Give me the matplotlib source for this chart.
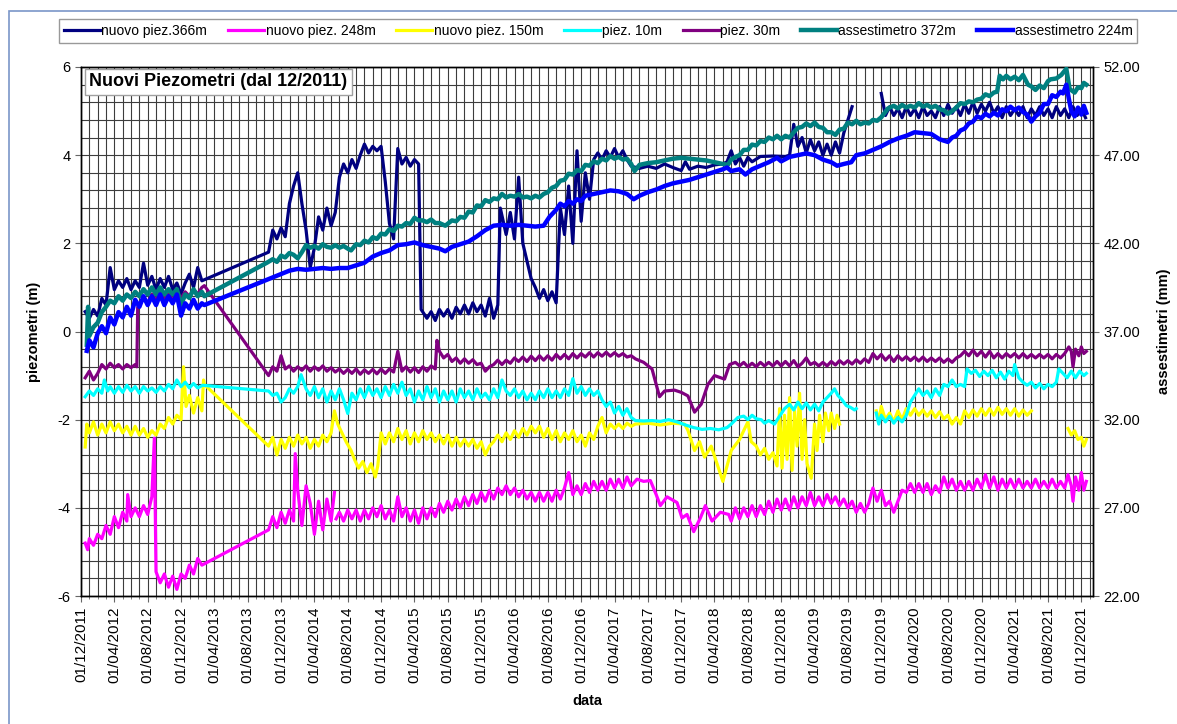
import numpy as np
import pandas as pd
import matplotlib
matplotlib.use("Agg")
import matplotlib.pyplot as plt
import matplotlib.dates as mdates
from matplotlib.ticker import MultipleLocator, FormatStrFormatter
from matplotlib.patches import Rectangle

plt.rcParams['font.family'] = ['Liberation Sans', 'DejaVu Sans']
plt.rcParams['axes.unicode_minus'] = False

# months counted from 01/12/2011; None = hole in the record
piez366 = [
    (0.5, 0.45), (1.0, 0.30), (1.5, 0.50), (2.0, 0.35), (2.5, 0.75), (3.0, 0.60), (3.5, 1.45), (4.0, 0.95),
    (4.5, 1.15), (5.0, 1.00), (5.5, 1.20), (6.0, 0.95), (6.5, 1.15), (7.0, 1.00), (7.5, 1.55), (8.0, 1.05),
    (8.5, 1.25), (9.0, 0.95), (9.5, 1.20), (10.0, 1.00), (10.5, 1.25), (11.0, 0.95), (11.5, 1.10), (12.0, 0.85),
    (12.5, 1.10), (13.0, 1.30), (13.5, 1.00), (14.0, 1.45), (14.5, 1.15),
    (22.5, 1.80), (23.0, 2.30), (23.5, 2.10), (24.0, 2.35), (24.5, 2.15), (25.0, 2.90), (25.5, 3.30), (26.0, 3.60),
    (26.5, 2.90), (27.0, 2.30), (27.5, 1.45), (28.0, 1.90), (28.5, 2.60), (29.0, 2.30), (29.5, 2.80), (30.0, 2.40),
    (30.5, 2.70), (31.0, 3.50), (31.5, 3.80), (32.0, 3.60), (32.5, 3.90), (33.0, 3.70), (33.5, 4.00), (34.0, 4.25),
    (34.5, 4.05), (35.0, 4.20), (35.5, 4.10), (36.0, 4.20), (36.5, 3.40), (37.0, 2.45), (37.5, 2.10), (38.0, 4.15),
    (38.5, 3.80), (39.0, 3.95), (39.5, 3.75), (40.0, 3.90), (40.5, 3.80),
    (40.8, 0.50), (41.5, 0.30), (42.0, 0.45), (42.5, 0.25), (43.0, 0.50), (43.5, 0.35), (44.0, 0.50), (44.5, 0.30),
    (45.0, 0.55), (45.5, 0.40), (46.0, 0.60), (46.5, 0.40), (47.0, 0.65), (47.5, 0.45), (48.0, 0.60), (48.5, 0.35),
    (49.0, 0.75), (49.5, 0.30), (50.0, 0.60), (50.3, 2.80), (51.0, 2.20), (51.5, 2.70), (52.0, 2.10), (52.5, 3.50),
    (53.0, 2.00), (53.5, 1.60), (54.0, 1.20), (54.5, 1.00), (55.0, 0.75), (55.5, 0.95), (56.0, 0.70), (56.5, 0.90),
    (57.0, 0.65), (57.5, 2.80), (58.0, 2.20), (58.5, 3.30), (59.0, 2.00), (59.5, 4.10), (60.0, 2.50), (60.5, 3.60),
    (61.0, 3.00), (61.5, 3.90), (62.0, 4.05), (62.5, 3.90), (63.0, 4.10), (63.5, 3.95), (64.0, 4.15), (64.5, 3.95),
    (65.0, 4.10), (65.5, 3.90), (66.0, 3.75), (67.0, 3.70), (68.0, 3.75), (69.0, 3.70), (70.0, 3.80), (71.0, 3.72),
    (72.0, 3.65), (72.5, 3.85), (73.0, 3.68), (74.0, 3.75), (75.0, 3.72), (76.0, 3.78), (77.0, 3.80), (77.5, 3.85),
    (78.0, 4.10), (78.5, 3.80), (79.0, 3.95), (79.5, 3.75), (80.0, 3.95), (80.5, 3.85), (81.5, 3.97), (83.0, 3.98),
    (84.5, 3.97), (85.0, 4.00), (85.5, 4.70), (86.0, 4.20), (86.5, 4.40), (87.0, 4.05), (87.5, 4.35), (88.0, 4.10),
    (88.5, 4.30), (89.0, 4.00), (89.5, 4.25), (90.0, 4.00), (90.5, 4.30), (91.0, 4.05), (91.5, 4.50), (92.0, 4.80),
    (92.5, 5.10), (93.0, None),
    (96.0, 5.40), (96.5, 4.90), (97.0, 5.10), (97.5, 4.90), (98.0, 5.05), (98.5, 4.85), (99.0, 5.10), (99.5, 4.90),
    (100.0, 5.05), (100.5, 4.85), (101.0, 5.10), (101.5, 4.90), (102.0, 5.00), (102.5, 4.85), (103.0, 5.10),
    (103.5, 4.90), (104.0, 5.15), (104.5, 4.95), (105.0, 5.10), (105.5, 4.90), (106.0, 5.15), (106.5, 4.95),
    (107.0, 5.20), (107.5, 4.95), (108.0, 5.15), (108.5, 5.00), (109.0, 5.20), (109.5, 4.95), (110.0, 5.10),
    (110.5, 4.85), (111.0, 5.10), (111.5, 4.90), (112.0, 5.05), (112.5, 4.90), (113.0, 5.10), (113.5, 4.85),
    (114.0, 5.05), (114.5, 4.90), (115.0, 5.10), (115.5, 4.90), (116.0, 5.05), (116.5, 4.85), (117.0, 5.10),
    (117.5, 4.90), (118.0, 5.05), (118.5, 4.85), (119.0, 5.10), (119.5, 4.90), (120.0, 5.05), (120.5, 4.85),
]

piez248 = [
    (0.5, -4.80), (0.8, -4.95), (1.0, -4.70), (1.5, -4.85), (2.0, -4.60), (2.5, -4.70), (3.0, -4.40), (3.5, -4.60),
    (4.0, -4.20), (4.5, -4.45), (5.0, -4.10), (5.5, -4.30), (5.6, -3.70), (6.0, -4.20), (6.5, -4.00), (7.0, -4.20),
    (7.5, -3.95), (8.0, -4.15), (8.5, -3.75), (8.8, -2.42), (9.0, -5.45), (9.5, -5.70), (10.0, -5.50), (10.5, -5.80),
    (11.0, -5.55), (11.5, -5.85), (12.0, -5.50), (12.5, -5.60), (13.0, -5.30), (13.5, -5.50), (14.0, -5.15),
    (14.5, -5.30),
    (22.5, -4.50), (23.0, -4.20), (23.5, -4.45), (24.0, -4.10), (24.5, -4.35), (25.0, -4.05), (25.5, -4.30),
    (25.7, -2.77), (26.0, -3.60), (26.5, -4.40), (27.0, -3.50), (27.5, -3.90), (28.0, -4.60), (28.5, -3.85),
    (29.0, -4.50), (29.5, -3.80), (30.0, -4.30), (30.4, -3.65), (30.5, None),
    (30.6, -4.25), (31.0, -4.10), (31.5, -4.30), (32.0, -4.05), (32.5, -4.25), (33.0, -4.05), (33.5, -4.30),
    (34.0, -4.05), (34.5, -4.25), (35.0, -4.00), (35.5, -4.20), (36.0, -3.95), (36.5, -4.25), (37.0, -4.05),
    (37.5, -4.30), (38.0, -3.75), (38.5, -4.20), (39.0, -4.00), (39.5, -4.30), (40.0, -4.05), (40.5, -4.35),
    (41.0, -4.00), (41.5, -4.25), (42.0, -4.00), (42.5, -4.20), (43.0, -3.90), (43.5, -4.10), (44.0, -3.85),
    (44.5, -4.05), (45.0, -3.80), (45.5, -4.00), (46.0, -3.75), (46.5, -3.95), (47.0, -3.70), (47.5, -3.90),
    (48.0, -3.65), (48.5, -3.85), (49.0, -3.60), (49.5, -3.80), (50.0, -3.55), (50.5, -3.70), (51.0, -3.50),
    (51.5, -3.70), (52.0, -3.55), (52.5, -3.75), (53.0, -3.60), (53.5, -3.80), (54.0, -3.65), (54.5, -3.85),
    (55.0, -3.65), (55.5, -3.85), (56.0, -3.65), (56.5, -3.85), (57.0, -3.60), (57.5, -3.80), (58.0, -3.55),
    (58.5, -3.20), (59.0, -3.70), (59.5, -3.50), (60.0, -3.70), (60.5, -3.45), (61.0, -3.65), (61.5, -3.40),
    (62.0, -3.60), (62.5, -3.40), (63.0, -3.60), (63.5, -3.35), (64.0, -3.55), (64.5, -3.35), (65.0, -3.55),
    (65.5, -3.30), (66.0, -3.50), (66.7, -3.35), (67.5, -3.40), (68.3, -3.38), (69.0, -3.70), (69.5, -3.95),
    (70.3, -3.75), (71.5, -3.88), (72.1, -4.23), (72.7, -4.15), (73.5, -4.54), (74.3, -4.23), (74.9, -3.95),
    (75.7, -4.30), (76.7, -4.10), (77.7, -4.15), (78.0, -4.30), (78.5, -4.00), (79.0, -4.25), (79.5, -4.00),
    (80.0, -4.20), (80.5, -3.95), (81.0, -4.20), (81.5, -3.95), (82.0, -4.15), (82.5, -3.85), (83.0, -4.10),
    (83.5, -3.80), (84.0, -4.05), (84.5, -3.80), (85.0, -4.05), (85.5, -3.75), (86.0, -4.00), (86.5, -3.75),
    (87.0, -3.95), (87.5, -3.65), (88.0, -3.95), (88.5, -3.75), (89.0, -3.95), (89.5, -3.70), (90.0, -3.90),
    (90.5, -3.75), (91.0, -3.95), (91.5, -3.80), (92.0, -4.00), (92.5, -3.85), (93.0, -4.10), (93.5, -3.90),
    (94.0, -4.10), (94.5, -3.90), (95.0, -3.55), (95.5, -3.85), (96.0, -3.60), (96.5, -3.95), (97.0, -3.85),
    (97.5, -4.10), (98.0, -3.85), (98.5, -3.60), (99.0, -3.65), (99.5, -3.45), (100.0, -3.65), (100.5, -3.45),
    (101.0, -3.65), (101.5, -3.45), (102.0, -3.70), (102.5, -3.50), (103.0, -3.65), (103.5, -3.30), (104.0, -3.55),
    (104.5, -3.35), (105.0, -3.60), (105.5, -3.40), (106.0, -3.60), (106.5, -3.40), (107.0, -3.60), (107.5, -3.35),
    (108.0, -3.55), (108.5, -3.25), (109.0, -3.55), (109.5, -3.30), (110.0, -3.60), (110.5, -3.35), (111.0, -3.55),
    (111.5, -3.35), (112.0, -3.55), (112.5, -3.35), (113.0, -3.55), (113.5, -3.40), (114.0, -3.55), (114.5, -3.35),
    (115.0, -3.55), (115.5, -3.40), (116.0, -3.55), (116.5, -3.35), (117.0, -3.55), (117.5, -3.40), (118.0, -3.55),
    (118.4, -3.25), (118.8, -3.50), (119.0, -3.85), (119.3, -3.30), (119.7, -3.60), (120.0, -3.20), (120.3, -3.60),
    (120.6, -3.40),
]

piez150 = [
    (0.5, -2.62), (0.7, -2.10), (1.0, -2.30), (1.5, -2.05), (2.0, -2.35), (2.5, -2.10), (3.0, -2.30), (3.5, -2.05),
    (4.0, -2.25), (4.5, -2.10), (5.0, -2.30), (5.5, -2.15), (6.0, -2.35), (6.5, -2.15), (7.0, -2.35), (7.5, -2.20),
    (8.0, -2.40), (8.5, -2.25), (9.0, -2.35), (9.5, -2.10), (10.0, -2.20), (10.5, -1.95), (11.0, -2.10),
    (11.5, -1.90), (12.0, -2.00), (12.3, -0.80), (12.6, -1.70), (13.0, -1.45), (13.5, -1.85), (14.0, -1.50),
    (14.5, -1.80), (14.7, -1.10), (14.8, -1.20),
    (22.5, -2.60), (23.0, -2.40), (23.5, -2.80), (24.0, -2.45), (24.5, -2.65), (25.0, -2.40), (25.5, -2.60),
    (26.0, -2.35), (26.5, -2.55), (27.0, -2.40), (27.5, -2.65), (28.0, -2.45), (28.5, -2.60), (29.0, -2.35),
    (29.5, -2.50), (30.0, -2.30), (30.4, -1.80), (30.8, -2.10), (31.3, -2.30), (31.8, -2.50), (32.4, -2.70),
    (32.8, -2.90), (33.3, -3.10), (33.8, -2.95), (34.3, -3.20), (34.8, -3.00), (35.3, -3.30), (35.6, -3.05),
    (36.0, -2.30), (36.5, -2.55), (37.0, -2.30), (37.5, -2.50), (38.0, -2.20), (38.5, -2.45), (39.0, -2.25),
    (39.5, -2.55), (40.0, -2.30), (40.5, -2.50), (41.0, -2.25), (41.5, -2.45), (42.0, -2.30), (42.5, -2.50),
    (43.0, -2.35), (43.5, -2.55), (44.0, -2.35), (44.5, -2.60), (45.0, -2.40), (45.5, -2.60), (46.0, -2.45),
    (46.5, -2.60), (47.0, -2.45), (47.5, -2.65), (48.0, -2.50), (48.5, -2.80), (49.0, -2.60), (49.5, -2.50),
    (50.0, -2.35), (50.5, -2.50), (51.0, -2.30), (51.5, -2.45), (52.0, -2.25), (52.5, -2.40), (53.0, -2.20),
    (53.5, -2.35), (54.0, -2.15), (54.5, -2.30), (55.0, -2.15), (55.5, -2.40), (56.0, -2.20), (56.5, -2.45),
    (57.0, -2.25), (57.5, -2.50), (58.0, -2.30), (58.5, -2.45), (59.0, -2.25), (59.5, -2.50), (60.0, -2.35),
    (60.5, -2.60), (61.0, -2.30), (61.5, -2.45), (62.0, -2.15), (62.5, -1.95), (63.0, -2.30), (63.5, -2.10),
    (64.0, -2.20), (64.5, -2.10), (65.0, -2.20), (65.5, -2.08), (66.0, -2.15), (66.5, -2.10), (68.0, -2.08),
    (69.5, -2.12), (71.0, -2.08), (72.4, -2.10), (72.8, -2.24), (73.6, -2.70), (74.2, -2.50), (74.8, -2.85),
    (75.6, -2.60), (77.0, -3.40), (78.0, -2.70), (79.0, -2.45), (79.5, -2.25), (80.0, -2.05), (80.4, -2.50),
    (81.0, -2.60), (81.5, -2.80), (82.0, -2.65), (82.5, -2.90), (83.0, -2.75), (83.5, -3.05), (83.8, -1.75),
    (84.1, -3.10), (84.4, -1.90), (84.7, -2.90), (85.0, -1.50), (85.3, -3.15), (85.6, -1.80), (85.9, -2.60),
    (86.2, -1.40), (86.5, -2.90), (86.8, -2.00), (87.1, -3.00), (87.6, -3.33), (88.0, -2.10), (88.3, -2.70),
    (88.6, -1.90), (89.0, -2.50), (89.3, -1.85), (89.7, -2.25), (90.0, -1.85), (90.4, -2.20), (90.7, -1.90),
    (91.0, -2.10), (91.2, None),
    (95.4, -1.80), (95.7, -2.05), (96.0, -1.70), (96.5, -2.00), (97.0, -1.85), (97.5, -2.05), (98.0, -1.80),
    (98.5, -2.00), (99.0, -1.75), (99.5, -1.90), (100.0, -1.75), (100.5, -1.90), (101.0, -1.78), (101.5, -1.92),
    (102.0, -1.80), (102.5, -1.95), (103.0, -1.82), (103.5, -1.98), (104.0, -1.90), (104.5, -2.10), (105.0, -1.95),
    (105.5, -2.10), (106.0, -1.80), (106.5, -1.95), (107.0, -1.78), (107.5, -1.92), (108.0, -1.75), (108.5, -1.90),
    (109.0, -1.75), (109.5, -1.90), (110.0, -1.72), (110.5, -1.88), (111.0, -1.75), (111.5, -1.90), (112.0, -1.75),
    (112.5, -1.92), (113.0, -1.78), (113.5, -1.90), (114.0, -1.80), (114.2, None),
    (118.4, -2.20), (118.8, -2.35), (119.2, -2.25), (119.6, -2.45), (120.0, -2.40), (120.3, -2.60), (120.6, -2.45),
]

piez10 = [
    (0.5, -1.48), (1.0, -1.35), (1.5, -1.45), (2.0, -1.30), (2.5, -1.40), (2.8, -1.10), (3.2, -1.35), (3.5, -1.25),
    (4.0, -1.40), (4.5, -1.25), (5.0, -1.38), (5.5, -1.22), (6.0, -1.35), (6.5, -1.25), (7.0, -1.40), (7.5, -1.25),
    (8.0, -1.35), (8.5, -1.28), (9.0, -1.38), (9.5, -1.25), (10.0, -1.35), (10.5, -1.20), (11.0, -1.30),
    (11.5, -1.10), (12.0, -1.25), (12.5, -1.15), (13.0, -1.28), (13.5, -1.18), (14.0, -1.28), (14.6, -1.22),
    (22.5, -1.35), (23.0, -1.45), (23.5, -1.40), (24.0, -1.60), (24.5, -1.50), (25.0, -1.30), (25.5, -1.40),
    (26.0, -1.25), (26.4, -0.98), (27.0, -1.30), (27.5, -1.45), (28.0, -1.25), (28.5, -1.50), (29.0, -1.30),
    (29.5, -1.60), (30.0, -1.35), (30.5, -1.55), (31.0, -1.30), (31.5, -1.55), (32.0, -1.86), (32.5, -1.40),
    (33.0, -1.55), (33.5, -1.30), (34.0, -1.50), (34.5, -1.25), (35.0, -1.45), (35.5, -1.30), (36.0, -1.50),
    (36.5, -1.25), (37.0, -1.45), (37.5, -1.20), (38.0, -1.40), (38.5, -1.15), (39.0, -1.45), (39.5, -1.30),
    (40.0, -1.60), (40.5, -1.35), (41.0, -1.55), (41.5, -1.25), (42.0, -1.50), (42.5, -1.30), (43.0, -1.60),
    (43.5, -1.35), (44.0, -1.55), (44.5, -1.35), (45.0, -1.60), (45.5, -1.30), (46.0, -1.50), (46.5, -1.35),
    (47.0, -1.55), (47.5, -1.30), (48.0, -1.50), (48.5, -1.40), (49.0, -1.55), (49.5, -1.30), (50.0, -1.50),
    (50.5, -1.10), (51.0, -1.35), (51.5, -1.45), (52.0, -1.30), (52.5, -1.50), (53.0, -1.35), (53.5, -1.55),
    (54.0, -1.40), (54.5, -1.55), (55.0, -1.35), (55.5, -1.50), (56.0, -1.30), (56.5, -1.50), (57.0, -1.35),
    (57.5, -1.50), (58.0, -1.30), (58.5, -1.45), (59.0, -1.07), (59.5, -1.40), (60.0, -1.25), (60.5, -1.45),
    (61.0, -1.30), (61.5, -1.45), (62.0, -1.35), (62.5, -1.55), (63.0, -1.70), (63.5, -1.60), (64.0, -1.85),
    (64.5, -1.70), (65.0, -1.90), (65.5, -1.75), (66.0, -1.95), (66.5, -2.02), (67.5, -2.03), (68.5, -2.02),
    (69.5, -2.04), (70.5, -2.00), (71.5, -2.05), (72.5, -2.12), (73.5, -2.18), (74.5, -2.22), (75.5, -2.20),
    (76.5, -2.23), (77.5, -2.18), (78.0, -2.10), (78.8, -1.95), (79.5, -1.92), (80.0, -2.00), (80.5, -1.90),
    (81.0, -1.98), (81.6, -2.00), (82.0, -2.08), (82.5, -2.02), (83.2, -2.10), (83.7, -1.95), (84.4, -1.75),
    (85.0, -1.65), (85.5, -1.78), (86.0, -1.60), (86.5, -1.75), (87.0, -1.62), (87.5, -1.78), (88.0, -1.65),
    (88.5, -1.80), (89.0, -1.60), (89.5, -1.50), (90.0, -1.40), (90.4, -1.30), (90.8, -1.45), (91.3, -1.55),
    (91.8, -1.68), (92.3, -1.72), (92.8, -1.78), (93.0, -1.75), (93.2, None),
    (95.4, -1.85), (95.7, -2.10), (96.0, -1.90), (96.5, -2.05), (97.0, -1.92), (97.5, -2.08), (98.0, -1.95),
    (98.5, -2.05), (99.0, -1.90), (99.5, -1.60), (100.0, -1.45), (100.5, -1.30), (101.0, -1.45), (101.5, -1.35),
    (102.0, -1.50), (102.5, -1.30), (103.0, -1.45), (103.5, -1.20), (104.0, -1.25), (104.5, -1.10), (105.0, -1.25),
    (105.5, -1.20), (106.0, -1.25), (106.3, -0.85), (106.8, -0.95), (107.3, -0.88), (107.8, -1.02), (108.3, -0.90),
    (108.8, -1.00), (109.3, -0.88), (109.8, -1.05), (110.3, -0.92), (110.8, -1.08), (111.3, -0.90), (111.8, -1.00),
    (112.0, -0.75), (112.5, -1.05), (113.0, -1.15), (113.5, -1.22), (114.0, -1.15), (114.5, -1.28), (115.0, -1.18),
    (115.5, -1.30), (116.0, -1.20), (116.5, -1.25), (117.0, -1.15), (117.3, -0.85), (117.8, -0.95), (118.3, -1.05),
    (118.8, -0.90), (119.3, -1.05), (119.8, -0.90), (120.3, -1.00), (120.6, -0.95),
]

piez30 = [
    (0.5, -1.05), (1.0, -0.90), (1.5, -1.10), (2.0, -0.95), (2.5, -0.75), (3.0, -0.85), (3.5, -0.72), (4.0, -0.82),
    (4.5, -0.75), (5.0, -0.85), (5.5, -0.75), (6.0, -0.82), (6.5, -0.75), (6.7, -0.80), (6.8, 0.55), (7.5, 0.75),
    (8.0, 0.65), (8.5, 0.85), (9.0, 0.70), (9.5, 0.90), (10.0, 0.75), (10.5, 0.85), (11.0, 0.70), (11.5, 0.90),
    (12.0, 0.75), (12.5, 0.90), (13.0, 0.80), (13.5, 0.95), (14.0, 0.85), (14.5, 1.00), (14.8, 1.04),
    (22.5, -1.00), (23.0, -0.80), (23.5, -0.90), (24.0, -0.55), (24.5, -0.85), (25.0, -0.78), (25.5, -0.90),
    (26.0, -0.80), (26.5, -0.88), (27.0, -0.78), (27.5, -0.90), (28.0, -0.80), (28.5, -0.88), (29.0, -0.78),
    (29.5, -0.90), (30.0, -0.82), (30.5, -0.92), (31.0, -0.85), (31.5, -0.95), (32.0, -0.86), (32.5, -0.95),
    (33.0, -0.85), (33.5, -0.97), (34.0, -0.87), (34.5, -0.95), (35.0, -0.86), (35.5, -0.96), (36.0, -0.85),
    (36.5, -0.95), (37.0, -0.85), (37.5, -0.92), (38.0, -0.45), (38.5, -0.90), (39.0, -0.80), (39.5, -0.92),
    (40.0, -0.82), (40.5, -0.93), (41.0, -0.80), (41.5, -0.90), (42.0, -0.78), (42.5, -0.85), (42.7, -0.20),
    (43.0, -0.45), (43.5, -0.60), (44.0, -0.52), (44.5, -0.68), (45.0, -0.60), (45.5, -0.72), (46.0, -0.62),
    (46.5, -0.72), (47.0, -0.64), (47.5, -0.75), (48.0, -0.72), (48.5, -0.90), (49.0, -0.80), (49.5, -0.75),
    (50.0, -0.65), (50.5, -0.75), (51.0, -0.65), (51.5, -0.72), (52.0, -0.60), (52.5, -0.68), (53.0, -0.58),
    (53.5, -0.68), (54.0, -0.56), (54.5, -0.66), (55.0, -0.55), (55.5, -0.65), (56.0, -0.55), (56.5, -0.65),
    (57.0, -0.52), (57.5, -0.62), (58.0, -0.52), (58.5, -0.62), (59.0, -0.50), (59.5, -0.60), (60.0, -0.50),
    (60.5, -0.58), (61.0, -0.48), (61.5, -0.58), (62.0, -0.48), (62.5, -0.56), (63.0, -0.47), (63.5, -0.56),
    (64.0, -0.48), (64.5, -0.56), (65.0, -0.50), (65.5, -0.58), (66.0, -0.55), (66.5, -0.62), (67.5, -0.70),
    (68.5, -0.85), (69.0, -1.20), (69.4, -1.48), (70.0, -1.35), (71.2, -1.33), (72.0, -1.38), (72.8, -1.46),
    (73.6, -1.83), (74.4, -1.65), (75.2, -1.20), (76.0, -1.00), (77.2, -1.08), (77.8, -0.75), (78.5, -0.70),
    (79.0, -0.78), (79.5, -0.70), (80.0, -0.80), (80.5, -0.72), (81.0, -0.80), (81.5, -0.70), (82.0, -0.78),
    (82.5, -0.70), (83.0, -0.78), (83.5, -0.68), (84.0, -0.78), (84.5, -0.68), (85.0, -0.78), (85.5, -0.66),
    (86.0, -0.80), (86.5, -0.72), (87.0, -0.60), (87.5, -0.75), (88.0, -0.70), (88.5, -0.78), (89.0, -0.70),
    (89.5, -0.78), (90.0, -0.68), (90.5, -0.76), (91.0, -0.66), (91.5, -0.74), (92.0, -0.66), (92.5, -0.74),
    (93.0, -0.64), (93.5, -0.72), (94.0, -0.62), (94.5, -0.70), (95.0, -0.50), (95.5, -0.62), (96.0, -0.52),
    (96.5, -0.65), (97.0, -0.55), (97.5, -0.68), (98.0, -0.55), (98.5, -0.65), (99.0, -0.57), (99.5, -0.66),
    (100.0, -0.58), (100.5, -0.67), (101.0, -0.58), (101.5, -0.68), (102.0, -0.60), (102.5, -0.68), (103.0, -0.60),
    (103.5, -0.70), (104.0, -0.62), (104.5, -0.70), (105.0, -0.60), (105.5, -0.55), (106.0, -0.45), (106.5, -0.55),
    (107.0, -0.42), (107.5, -0.55), (108.0, -0.45), (108.5, -0.58), (109.0, -0.45), (109.5, -0.60), (110.0, -0.50),
    (110.5, -0.60), (111.0, -0.50), (111.5, -0.58), (112.0, -0.50), (112.5, -0.60), (113.0, -0.50), (113.5, -0.60),
    (114.0, -0.52), (114.5, -0.60), (115.0, -0.52), (115.5, -0.60), (116.0, -0.52), (116.5, -0.62), (117.0, -0.52),
    (117.5, -0.60), (118.0, -0.50), (118.5, -0.35), (118.8, -0.45), (119.0, -0.80), (119.3, -0.40), (119.7, -0.55),
    (120.0, -0.35), (120.3, -0.50), (120.6, -0.45),
]

# settlement gauges, mm (right axis)
ass372 = [
    (0.7, 36.25), (0.85, 38.4), (1.0, 36.75), (1.5, 37.25), (2.0, 37.5), (2.5, 38.1), (3.0, 38.4), (3.5, 38.75),
    (4.0, 38.6), (4.5, 39.0), (5.0, 38.75), (5.5, 39.1), (6.0, 38.9), (6.5, 39.25), (7.0, 39.0), (7.5, 39.4),
    (8.0, 39.1), (8.5, 39.5), (9.0, 39.1), (9.5, 39.5), (10.0, 39.1), (10.5, 39.4), (11.0, 39.1), (11.5, 39.4),
    (12.0, 38.5), (12.5, 39.1), (13.0, 38.9), (13.5, 39.4), (14.0, 39.0), (14.5, 39.25), (14.8, 39.0),
    (22.3, 40.9), (23.0, 41.1), (23.5, 40.95), (24.0, 41.3), (24.5, 41.2), (25.0, 41.45), (25.5, 41.35),
    (26.0, 41.15), (26.5, 41.5), (27.0, 41.9), (27.5, 41.75), (28.0, 41.85), (28.5, 41.7), (29.0, 41.95),
    (29.5, 41.8), (30.0, 41.75), (30.5, 41.9), (31.0, 41.75), (31.5, 41.85), (32.0, 41.7), (32.4, 41.6),
    (33.0, 41.95), (33.5, 41.9), (34.0, 42.15), (34.5, 42.05), (35.0, 42.35), (35.5, 42.25), (36.0, 42.55),
    (36.5, 42.5), (37.0, 42.8), (37.5, 42.7), (38.0, 43.0), (38.5, 42.95), (39.0, 43.15), (39.5, 43.1),
    (40.0, 43.45), (40.5, 43.3), (41.0, 43.3), (41.5, 43.2), (42.0, 43.35), (42.5, 43.15), (43.0, 43.15),
    (43.7, 43.0), (44.5, 43.3), (45.0, 43.25), (45.5, 43.5), (46.0, 43.45), (46.5, 43.8), (47.0, 43.75),
    (47.5, 44.15), (48.0, 44.1), (48.5, 44.45), (49.0, 44.35), (49.5, 44.55), (50.0, 44.5), (50.5, 44.8),
    (51.0, 44.6), (51.5, 44.7), (52.0, 44.65), (52.5, 44.8), (53.0, 44.6), (53.5, 44.65), (54.0, 44.55),
    (54.5, 44.7), (55.0, 44.6), (55.5, 44.8), (56.0, 44.9), (56.5, 45.15), (57.0, 45.25), (57.5, 45.55),
    (58.0, 45.6), (58.5, 45.95), (59.0, 45.9), (59.5, 46.15), (60.0, 46.1), (60.5, 46.45), (61.0, 46.4),
    (61.5, 46.65), (62.0, 46.55), (62.5, 46.8), (63.0, 46.7), (63.5, 46.95), (64.0, 46.8), (64.5, 46.9),
    (65.0, 46.75), (65.5, 46.8), (66.0, 46.5), (66.4, 46.1), (67.0, 46.45), (68.0, 46.55), (69.0, 46.6),
    (70.0, 46.7), (71.0, 46.8), (72.0, 46.85), (73.0, 46.8), (74.0, 46.75), (75.0, 46.7), (76.0, 46.6),
    (77.0, 46.5), (77.6, 46.45), (78.0, 46.75), (78.5, 46.9), (79.0, 47.0), (79.5, 47.3), (80.0, 47.3),
    (80.5, 47.6), (81.0, 47.55), (81.5, 47.8), (82.0, 47.75), (82.5, 48.0), (83.0, 47.9), (83.5, 48.1),
    (84.0, 47.9), (84.5, 48.1), (85.0, 48.0), (85.5, 48.3), (86.0, 48.55), (86.5, 48.6), (87.0, 48.8),
    (87.5, 48.65), (88.0, 48.85), (88.5, 48.6), (89.0, 48.55), (89.5, 48.3), (90.0, 48.3), (90.5, 48.15),
    (91.0, 48.45), (91.5, 48.5), (92.0, 48.85), (92.5, 48.75), (93.0, 48.95), (93.5, 48.75), (94.0, 48.85),
    (94.5, 48.8), (95.0, 49.0), (95.5, 48.95), (96.0, 49.15), (96.8, 49.65), (97.5, 49.8), (98.0, 49.65),
    (98.5, 49.85), (99.0, 49.7), (99.5, 49.8), (100.0, 49.7), (100.5, 49.95), (101.0, 49.75), (101.5, 49.85),
    (102.0, 49.7), (102.5, 49.8), (103.0, 49.6), (103.5, 49.55), (104.0, 49.35), (104.5, 49.5), (105.0, 49.7),
    (105.5, 49.95), (106.0, 49.9), (106.5, 50.05), (107.0, 50.0), (107.5, 50.15), (108.0, 50.2), (108.5, 50.45),
    (109.0, 50.35), (109.5, 50.55), (109.9, 50.6), (110.2, 51.5), (110.6, 51.3), (111.0, 51.5), (111.5, 51.3),
    (112.0, 51.45), (112.5, 51.25), (113.0, 51.55), (113.6, 51.0), (114.0, 50.9), (114.5, 50.7), (115.0, 50.95),
    (115.5, 50.8), (116.0, 51.2), (116.3, 51.3), (117.0, 51.35), (117.6, 51.55), (118.2, 51.9), (118.6, 50.75),
    (119.2, 50.55), (119.6, 50.85), (120.0, 50.8), (120.3, 51.1), (120.6, 51.0),
]

ass224 = [
    (0.7, 35.9), (1.0, 36.5), (1.5, 36.1), (2.0, 36.9), (2.5, 37.3), (3.0, 36.9), (3.5, 37.8), (4.0, 37.4),
    (4.5, 38.1), (5.0, 37.8), (5.5, 38.4), (6.0, 37.9), (6.5, 38.8), (7.0, 38.4), (7.5, 39.0), (8.0, 38.5),
    (8.5, 39.0), (9.0, 38.5), (9.5, 39.1), (10.0, 38.5), (10.5, 39.0), (11.0, 38.6), (11.5, 39.1), (12.0, 37.9),
    (12.5, 38.6), (13.0, 38.3), (13.5, 38.8), (14.0, 38.3), (14.5, 38.6), (14.8, 38.5),
    (25.0, 40.45), (26.0, 40.55), (27.0, 40.5), (28.0, 40.55), (29.0, 40.6), (30.0, 40.55), (31.0, 40.6),
    (32.0, 40.6), (33.0, 40.75), (34.0, 40.9), (35.0, 41.25), (36.0, 41.45), (37.0, 41.6), (38.0, 41.9),
    (39.0, 41.95), (40.0, 42.05), (41.0, 41.9), (42.0, 41.8), (43.0, 41.7), (43.7, 41.55), (44.5, 41.8),
    (45.5, 41.95), (46.5, 42.1), (47.5, 42.4), (48.5, 42.75), (49.5, 43.0), (50.5, 43.05), (51.5, 43.0),
    (52.5, 43.05), (53.5, 43.0), (54.5, 42.95), (55.5, 43.0), (56.2, 43.5), (57.0, 43.9), (57.5, 44.25),
    (58.0, 44.1), (58.5, 44.4), (59.0, 44.25), (59.5, 44.5), (60.0, 44.4), (60.5, 44.7), (61.5, 44.8),
    (62.5, 44.9), (63.5, 45.0), (64.5, 44.95), (65.5, 44.8), (66.3, 44.5), (67.0, 44.7), (68.0, 44.9),
    (69.0, 45.05), (70.0, 45.25), (71.0, 45.4), (72.0, 45.5), (73.0, 45.6), (74.0, 45.75), (75.0, 45.9),
    (76.0, 46.05), (77.0, 46.2), (77.5, 46.3), (78.0, 46.1), (79.0, 46.2), (79.7, 45.9), (80.5, 46.2),
    (81.5, 46.4), (82.5, 46.6), (83.5, 46.85), (84.0, 46.65), (85.0, 46.9), (86.0, 47.0), (87.0, 47.1),
    (88.0, 47.0), (89.0, 46.75), (90.0, 46.6), (90.7, 46.4), (91.5, 46.5), (92.4, 46.6), (93.0, 47.0),
    (94.0, 47.1), (95.0, 47.3), (96.0, 47.5), (97.0, 47.75), (98.0, 47.95), (99.0, 48.1), (100.0, 48.3),
    (101.0, 48.25), (102.0, 48.2), (103.0, 47.9), (104.0, 47.75), (104.5, 48.0), (105.0, 48.1), (105.5, 48.4),
    (106.0, 48.5), (106.5, 48.8), (107.0, 48.9), (107.5, 49.2), (108.0, 49.1), (108.5, 49.35), (109.0, 49.2),
    (109.5, 49.4), (110.0, 49.25), (110.5, 49.6), (111.0, 49.5), (111.5, 49.75), (112.0, 49.55), (112.5, 49.7),
    (113.0, 49.45), (113.5, 49.3), (114.0, 48.9), (114.5, 49.2), (115.0, 49.4), (115.5, 49.9), (116.0, 49.9),
    (116.5, 50.4), (117.0, 50.3), (117.5, 50.6), (117.8, 50.5), (118.2, 51.0), (118.5, 50.2), (118.8, 49.5),
    (119.2, 49.2), (119.6, 49.7), (120.0, 49.3), (120.3, 49.8), (120.6, 49.4),
]

piezo_series = [
    ("nuovo piez.366m", piez366, "#000080"),
    ("nuovo piez. 248m", piez248, "#FF00FF"),
    ("nuovo piez. 150m", piez150, "#FFFF00"),
    ("piez. 10m", piez10, "#00FFFF"),
    ("piez. 30m", piez30, "#800080"),
]
ass_series = [
    ("assestimetro 372m", ass372, "#008080"),
    ("assestimetro 224m", ass224, "#0000FF"),
]

START = pd.Timestamp("2011-12-01")


def to_xy(points):
    m = np.array([p[0] for p in points], dtype=float)
    v = np.array([np.nan if p[1] is None else p[1] for p in points], dtype=float)
    t = START + pd.to_timedelta(m * 30.4375, unit="D")
    return mdates.date2num(t.to_pydatetime()), v


W, H = 1177, 724
fig = plt.figure(figsize=(W / 100, H / 100), dpi=100)
ax = fig.add_axes([81 / W, 1 - 596 / H, (1093 - 81) / W, (596 - 67) / H])
ax2 = ax.twinx()

# frame around the whole sheet
fig.add_artist(Rectangle((9 / W, -0.01), 1.02, 1 - 11 / H + 0.01, transform=fig.transFigure,
                         fill=False, ec="#7a96c8", lw=1.2))

handles = []
for label, pts, col in piezo_series:
    x, y = to_xy(pts)
    h, = ax.plot(x, y, color=col, lw=2.3, label=label, zorder=3)
    handles.append(h)
for label, pts, col in ass_series:
    x, y = to_xy(pts)
    h, = ax2.plot(x, y, color=col, lw=3.2, label=label, zorder=3)
    handles.append(h)

x0 = mdates.date2num(START)
ax.set_xlim(x0, x0 + 121.4 * 30.4375)
ax.set_ylim(-6, 6)
ax2.set_ylim(22, 52)

ax.yaxis.set_major_locator(MultipleLocator(2))
ax.yaxis.set_minor_locator(MultipleLocator(0.4))
ax.xaxis.set_major_locator(mdates.MonthLocator(bymonth=(4, 8, 12), bymonthday=1))
ax.xaxis.set_minor_locator(mdates.MonthLocator(bymonthday=1))
ax.xaxis.set_major_formatter(mdates.DateFormatter("%d/%m/%Y"))
ax2.set_yticks(np.arange(22, 53, 5))
ax2.yaxis.set_major_formatter(FormatStrFormatter("%.2f"))

ax.grid(which="both", color="#3c3c3c", lw=0.8)
ax.set_axisbelow(True)
for s in list(ax.spines.values()) + list(ax2.spines.values()):
    s.set_color("black")
    s.set_linewidth(1.0)

ax.tick_params(axis="y", which="major", labelsize=10.5, length=4, color="#666666")
ax.tick_params(axis="y", which="minor", length=0)
ax.tick_params(axis="x", which="major", labelsize=11, length=4, rotation=90, color="#666666")
ax.tick_params(axis="x", which="minor", length=2, color="#666666")
ax2.tick_params(axis="y", labelsize=10.5, length=4, color="#666666")

ax.set_ylabel("piezometri (m)", fontsize=10.5, fontweight="bold", labelpad=12)
ax2.set_ylabel("assestimetri (mm)", fontsize=10.5, fontweight="bold", labelpad=12)
ax.set_xlabel("data", fontsize=10.5, fontweight="bold", labelpad=8)

ax.text(0.008, 0.988, "Nuovi Piezometri (dal 12/2011)", transform=ax.transAxes, fontsize=13,
        fontweight="bold", va="top", ha="left", zorder=5,
        bbox=dict(boxstyle="square,pad=0.25", fc="white", ec="#a0a0a0", lw=1))

fig.legend(handles=handles, loc="upper left", bbox_to_anchor=(52 / W, 1 - 12 / H), ncol=7,
           fontsize=10, handlelength=2.6, handletextpad=0.1, columnspacing=1.5,
           frameon=True, fancybox=False, edgecolor="#808080", borderpad=0.35)

fig.savefig("out.png", dpi=100)
